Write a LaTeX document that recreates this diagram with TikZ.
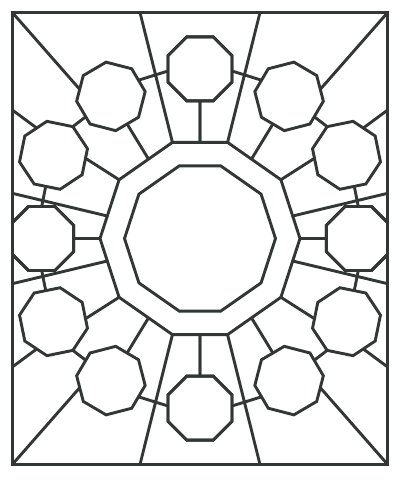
\documentclass[tikz,border=0pt]{standalone}
\usetikzlibrary{calc}
\definecolor{ink}{RGB}{50,55,54}
\newcommand\octR{34.6}
\newcommand\octo[4]{\coordinate (#1) at (#2,#3);
  \draw[ln,shift={(#2,#3)},rotate=#4] (0:\octR) -- (45:\octR) -- (90:\octR) -- (135:\octR) -- (180:\octR) -- (225:\octR) -- (270:\octR) -- (315:\octR) -- cycle;}
\begin{document}
\begin{tikzpicture}[x=1pt,y=1pt,ln/.style={draw=ink,line width=2.9pt}]
\useasboundingbox (-200,-241.5) rectangle (200,238.5);
\fill[white] (-200,-241.5) rectangle (200,238.5);
\begin{scope}
\clip (-187.7,-226) rectangle (187.7,226);
\foreach \sx/\sy [count=\q] in {1/1,-1/1,1/-1,-1/-1}{
 \begin{scope}[xscale=\sx,yscale=\sy]
  \coordinate (Ar\q) at (0,96.1);
  \coordinate (As\q) at (0,137.6);
  \coordinate (Bs\q) at (-72.9,114.5);
  \coordinate (Br\q) at (-51.5,79.4);
  \coordinate (Cs\q) at (-114.5,80.2);
  \coordinate (Cr\q) at (144:100);
  \coordinate (Ds\q) at (-126.3,0);
  \coordinate (Dr\q) at (180:100);
  \coordinate (ABa\q) at (-31.97,167.5);
  \coordinate (ABb\q) at (-61.5,158.3);
  \coordinate (BCb\q) at (-114.2,121.8);
  \coordinate (BCc\q) at (-127.15,111.9);
  \coordinate (CDc\q) at (-154.3,52.1);
  \coordinate (CDd\q) at (-158.3,31.97);
  \coordinate (V\q) at (106:100);
  \coordinate (T\q) at (-60,226);
  \coordinate (Bo\q) at (-120.3,149.2);
  \coordinate (K\q) at (-187.7,226);
  \coordinate (Co\q) at (-163.3,110.5);
  \coordinate (F\q) at (-187.7,128.5);
  \coordinate (E\q) at (-92.7,22.5);
  \coordinate (G\q) at (-187.7,45.2);
  \draw[ln] (As\q) -- (Ar\q) (Bs\q) -- (Br\q) (Cs\q) -- (Cr\q) (Ds\q) -- (Dr\q)
    (ABa\q) -- (ABb\q) (BCb\q) -- (BCc\q) (CDc\q) -- (CDd\q)
    (V\q) -- (T\q) (Bo\q) -- (K\q) (Co\q) -- (F\q) (E\q) -- (G\q);
  \octo{A\q}{0}{169.6}{22.5}
  \octo{B\q}{-89.1}{142.1}{8}
  \octo{C\q}{-146.5}{83.2}{11}
  \octo{D\q}{-158.3}{0}{22.5}
 \end{scope}
}
\end{scope}
\draw[ln] (0:100) -- (36:100) -- (74:100) -- (106:100) -- (144:100) -- (180:100) -- (216:100) -- (254:100) -- (286:100) -- (324:100) -- cycle;
\draw[ln] (0:75.5) -- (36:75.5) -- (74:75.5) -- (106:75.5) -- (144:75.5) -- (180:75.5) -- (216:75.5) -- (254:75.5) -- (286:75.5) -- (324:75.5) -- cycle;
\draw[ln] (-187.7,-226) rectangle (187.7,226);
\end{tikzpicture}
\end{document}
